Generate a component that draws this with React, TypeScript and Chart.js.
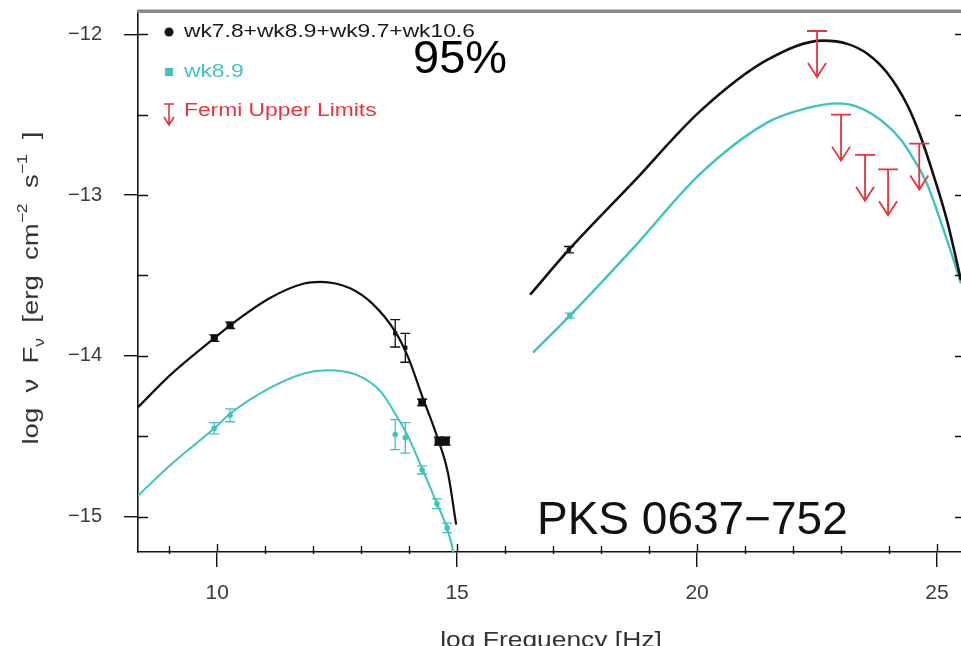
import { useEffect, useRef } from 'react';
import { Chart, registerables } from 'chart.js';

Chart.register(...registerables);

// ---- Model curves: log frequency [Hz] vs log νFν ----
// Synchrotron hump, summed epochs
const syncSumX = [8.35, 9.02, 9.94, 10.27, 11.1, 11.81, 12.15, 12.77, 13.25, 13.71, 13.98, 14.27, 14.58, 14.81, 14.98];
const syncSumY = [-14.32, -14.12, -13.89, -13.81, -13.64, -13.55, -13.54, -13.58, -13.68, -13.85, -14.01, -14.25, -14.5, -14.73, -15.05];
// Inverse-Compton hump, summed epochs
const icSumX = [16.52, 17.33, 18.67, 20.06, 21.46, 22.63, 23.13, 23.54, 23.96, 24.38, 24.65, 24.92, 25.21, 25.5];
const icSumY = [-13.62, -13.34, -12.92, -12.48, -12.16, -12.04, -12.06, -12.12, -12.24, -12.44, -12.63, -12.87, -13.16, -13.53];
// Synchrotron hump, wk8.9
const syncWk89X = [8.35, 9.02, 9.94, 10.27, 11.1, 11.81, 12.29, 12.92, 13.4, 13.75, 13.96, 14.27, 14.58, 14.79, 14.92, 14.98];
const syncWk89Y = [-14.87, -14.68, -14.45, -14.36, -14.2, -14.11, -14.09, -14.12, -14.22, -14.38, -14.49, -14.7, -14.92, -15.07, -15.22, -15.33];
// Inverse-Compton hump, wk8.9
const icWk89X = [16.58, 17.35, 18.67, 20.06, 21.46, 22.29, 22.92, 23.33, 23.81, 24.23, 24.5, 24.79, 25.06, 25.33, 25.5];
const icWk89Y = [-13.98, -13.75, -13.33, -12.87, -12.55, -12.46, -12.43, -12.45, -12.53, -12.65, -12.77, -12.93, -13.15, -13.39, -13.55];

// ---- Measurements ----
const sumPtX = [9.94, 10.27, 13.71, 13.92, 14.27, 14.62, 14.76, 17.33];
const sumPtY = [-13.89, -13.81, -13.86, -13.95, -14.29, -14.53, -14.53, -13.34];
const sumPtErr = [0.02, 0.02, 0.085, 0.09, 0.02, 0.025, 0.025, 0.02];

const wk89PtX = [9.94, 10.27, 13.71, 13.92, 14.27, 14.58, 14.79, 17.35];
const wk89PtY = [-14.45, -14.37, -14.49, -14.51, -14.71, -14.92, -15.07, -13.75];
const wk89PtErr = [0.035, 0.04, 0.093, 0.095, 0.025, 0.03, 0.03, 0.015];

// Fermi-LAT upper limits
const fermiUlX = [22.5, 23.0, 23.5, 23.98, 24.63];
const fermiUlY = [-11.98, -12.5, -12.75, -12.84, -12.68];

// ---- Axes ----
const xMajorTicks = [10, 15, 20, 25];
const xMinorTicks = [9, 10, 11, 12, 13, 14, 15, 16, 17, 18, 19, 20, 21, 22, 23, 24, 25];
const yMajorTicks = [-12, -13, -14, -15];
const yMinorTicks = [-12, -12.5, -13, -13.5, -14, -14.5, -15];

const legendLabels = ['wk7.8+wk8.9+wk9.7+wk10.6', 'wk8.9', 'Fermi Upper Limits'];
const sourceName = 'PKS 0637\u2212752';
const confidenceText = '95%';
const xTitle = 'log Frequency [Hz]';

const FONT = '"Liberation Sans", Arial, Helvetica, sans-serif';
const BLACK = '#111111';
const CYAN = '#3fc4bc';
const RED = '#e8333c';

const pts = (xs: number[], ys: number[]) => xs.map((x, i) => ({ x, y: ys[i] }));

function stretchedText(ctx: CanvasRenderingContext2D, text: string, x: number, y: number, sx: number) {
  ctx.save();
  ctx.translate(x, y);
  ctx.scale(sx, 1);
  ctx.fillText(text, 0, 0);
  ctx.restore();
}

function drawArrow(ctx: CanvasRenderingContext2D, px: number, top: number, len: number, capHalf: number, headHalf: number, headLen: number) {
  const tip = top + len;
  ctx.beginPath();
  ctx.moveTo(px - capHalf, top);
  ctx.lineTo(px + capHalf, top);
  ctx.moveTo(px, top);
  ctx.lineTo(px, tip);
  ctx.moveTo(px - headHalf, tip - headLen);
  ctx.lineTo(px, tip);
  ctx.lineTo(px + headHalf, tip - headLen);
  ctx.stroke();
}

const sedDecor = {
  id: 'sedDecor',
  afterDatasetsDraw(chart: any) {
    const { ctx, chartArea: a, scales } = chart;
    const xs = scales.x;
    const ys = scales.y;
    ctx.save();
    ctx.beginPath();
    ctx.rect(a.left, a.top, a.right - a.left, a.bottom - a.top);
    ctx.clip();
    // error bars
    chart.data.datasets.forEach((ds: any) => {
      if (!ds.errY) return;
      ctx.strokeStyle = ds.borderColor;
      ctx.lineWidth = 1.3;
      ds.data.forEach((p: any, i: number) => {
        const px = xs.getPixelForValue(p.x);
        const t = ys.getPixelForValue(p.y + ds.errY[i]);
        const b = ys.getPixelForValue(p.y - ds.errY[i]);
        const c = 5;
        ctx.beginPath();
        ctx.moveTo(px, t);
        ctx.lineTo(px, b);
        ctx.moveTo(px - c, t);
        ctx.lineTo(px + c, t);
        ctx.moveTo(px - c, b);
        ctx.lineTo(px + c, b);
        ctx.stroke();
      });
    });
    // upper limits
    ctx.strokeStyle = RED;
    ctx.lineWidth = 1.8;
    fermiUlX.forEach((v, i) => {
      drawArrow(ctx, xs.getPixelForValue(v), ys.getPixelForValue(fermiUlY[i]), 46, 10, 9, 14);
    });
    ctx.restore();
  },
  afterDraw(chart: any) {
    const { ctx, chartArea: a, scales } = chart;
    const xs = scales.x;
    const ys = scales.y;
    ctx.save();
    // top frame line
    ctx.fillStyle = '#8a8a8a';
    ctx.fillRect(a.left - 1, a.top - 3.5, a.right - a.left + 1, 3.5);
    // inner tick marks
    ctx.strokeStyle = BLACK;
    ctx.lineWidth = 1.4;
    ctx.beginPath();
    xMinorTicks.forEach((v) => {
      const px = Math.round(xs.getPixelForValue(v)) + 0.5;
      const major = xMajorTicks.includes(v);
      ctx.moveTo(px, a.bottom + (major ? 0 : 2));
      ctx.lineTo(px, a.bottom - (major ? 8 : 6));
    });
    yMinorTicks.forEach((v) => {
      const py = Math.round(ys.getPixelForValue(v)) + 0.5;
      ctx.moveTo(a.left, py);
      ctx.lineTo(a.left + 10, py);
      ctx.moveTo(a.right, py);
      ctx.lineTo(a.right - 6, py);
    });
    ctx.stroke();

    // legend
    const lx = a.left + 31;
    const tx = a.left + 46;
    ctx.textBaseline = 'middle';
    ctx.font = `19px ${FONT}`;
    ctx.fillStyle = BLACK;
    ctx.beginPath();
    ctx.arc(lx, a.top + 19, 4.5, 0, Math.PI * 2);
    ctx.fill();
    ctx.fillStyle = '#1a1a1a';
    stretchedText(ctx, legendLabels[0], tx, a.top + 19, 1.2);
    ctx.fillStyle = CYAN;
    ctx.fillRect(lx - 4, a.top + 55, 8, 8);
    stretchedText(ctx, legendLabels[1], tx, a.top + 59, 1.2);
    ctx.strokeStyle = RED;
    ctx.lineWidth = 1.6;
    drawArrow(ctx, lx, a.top + 91, 21, 5, 5, 8);
    ctx.fillStyle = RED;
    stretchedText(ctx, legendLabels[2], tx, a.top + 98, 1.2);

    // annotations
    ctx.textBaseline = 'alphabetic';
    ctx.fillStyle = '#000';
    ctx.font = `47px ${FONT}`;
    ctx.fillText(confidenceText, a.left + 275, a.top + 60);
    ctx.fillStyle = '#111';
    ctx.font = `46px ${FONT}`;
    ctx.fillText(sourceName, a.left + 399, a.top + 521);

    // x title
    ctx.fillStyle = '#333';
    ctx.font = `22px ${FONT}`;
    const xw = ctx.measureText(xTitle).width * 1.2;
    stretchedText(ctx, xTitle, 551 - xw / 2, 647, 1.2);

    // y title: log ν F_ν [erg cm^-2 s^-1]
    const pieces = [
      { t: 'log  \u03bd  F', s: 22, dy: 0 },
      { t: '\u03bd', s: 14, dy: 6 },
      { t: '  [erg  cm', s: 22, dy: 0 },
      { t: '\u22122', s: 14, dy: -11 },
      { t: '  s', s: 22, dy: 0 },
      { t: '\u22121', s: 14, dy: -11 },
      { t: '  ]', s: 22, dy: 0 },
    ];
    let total = 0;
    pieces.forEach((p) => {
      ctx.font = `${p.s}px ${FONT}`;
      total += ctx.measureText(p.t).width;
    });
    ctx.save();
    ctx.translate(38, 288);
    ctx.rotate(-Math.PI / 2);
    ctx.scale(1.25, 1);
    ctx.fillStyle = '#333';
    let cx = -total / 2;
    pieces.forEach((p) => {
      ctx.font = `${p.s}px ${FONT}`;
      ctx.fillText(p.t, cx, p.dy);
      cx += ctx.measureText(p.t).width;
    });
    ctx.restore();

    ctx.restore();
  },
};

export default function App() {
  const canvasRef = useRef<HTMLCanvasElement | null>(null);

  useEffect(() => {
    if (!canvasRef.current) return;
    const curve = (data: any[], color: string, width: number) => ({
      type: 'scatter' as const,
      data,
      showLine: true,
      borderColor: color,
      backgroundColor: color,
      borderWidth: width,
      pointRadius: 0,
      cubicInterpolationMode: 'monotone' as const,
    });
    const chart = new Chart(canvasRef.current, {
      type: 'scatter',
      data: {
        datasets: [
          curve(pts(syncSumX, syncSumY), BLACK, 2.2),
          curve(pts(icSumX, icSumY), BLACK, 2.6),
          curve(pts(syncWk89X, syncWk89Y), CYAN, 2),
          curve(pts(icWk89X, icWk89Y), CYAN, 2.4),
          {
            data: pts(sumPtX, sumPtY),
            errY: sumPtErr,
            borderColor: BLACK,
            backgroundColor: BLACK,
            pointStyle: 'rect',
            pointRadius: [5, 5, 3, 3, 5.5, 6, 6, 3],
            pointBorderWidth: 0,
          } as any,
          {
            data: pts(wk89PtX, wk89PtY),
            errY: wk89PtErr,
            borderColor: CYAN,
            backgroundColor: CYAN,
            pointStyle: 'circle',
            pointRadius: 2.8,
            pointBorderWidth: 0,
          } as any,
        ],
      },
      options: {
        animation: false,
        responsive: true,
        maintainAspectRatio: false,
        layout: { autoPadding: false, padding: { top: 13, left: 0, right: 0, bottom: 0 } },
        plugins: { legend: { display: false }, tooltip: { enabled: false } },
        scales: {
          x: {
            type: 'linear',
            min: 8.35,
            max: 25.5,
            afterBuildTicks: (s: any) => {
              s.ticks = xMajorTicks.map((value) => ({ value }));
            },
            afterFit: (s: any) => {
              s.height = 94;
              s.paddingLeft = 0;
              s.paddingRight = 0;
            },
            grid: { display: true, drawOnChartArea: false, drawTicks: true, tickLength: 15, color: BLACK, lineWidth: 1.4 },
            border: { display: true, color: BLACK, width: 1.6 },
            ticks: {
              font: { family: FONT, size: 21 },
              color: '#3a3a3a',
              padding: 14,
              maxRotation: 0,
              autoSkip: false,
              callback: (v: any) => String(v),
            },
          },
          y: {
            type: 'linear',
            min: -15.22,
            max: -11.868,
            afterBuildTicks: (s: any) => {
              s.ticks = yMajorTicks.map((value) => ({ value }));
            },
            afterFit: (s: any) => {
              s.width = 138;
              s.paddingTop = 0;
              s.paddingBottom = 0;
            },
            grid: { display: true, drawOnChartArea: false, drawTicks: true, tickLength: 14, color: BLACK, lineWidth: 1.4 },
            border: { display: true, color: BLACK, width: 1.6 },
            ticks: {
              font: { family: FONT, size: 20 },
              color: '#3a3a3a',
              padding: 22,
              autoSkip: false,
              callback: (v: any) => '\u2212' + Math.abs(Number(v)),
            },
          },
        },
      },
      plugins: [sedDecor],
    });
    return () => chart.destroy();
  }, []);

  return (
    <div style={{ position: 'fixed', left: 0, top: 0, width: 961, height: 646, background: '#fff' }}>
      <canvas ref={canvasRef} />
    </div>
  );
}
